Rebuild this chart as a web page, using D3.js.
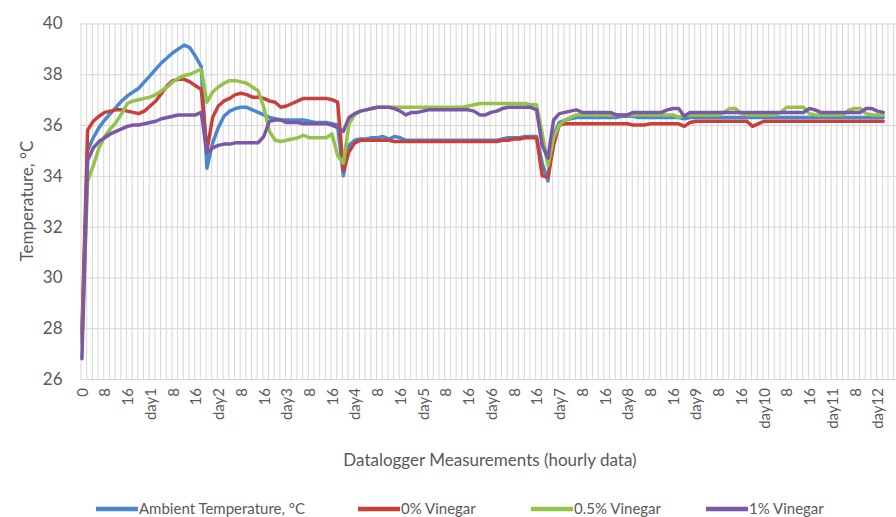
<!DOCTYPE html>
<html>
<head>
<meta charset="utf-8">
<script src="https://cdn.jsdelivr.net/npm/d3@7"></script>
<style>
  body { margin: 0; background: #fff; }
  svg { display: block; font-family: Lato, "Open Sans", sans-serif; }
</style>
</head>
<body>
<svg id="chart" width="896" height="517"></svg>
<script>
// logger readings taken every 2 hours (one row = one day)
var hours = d3.range(0, 284, 2);

var ambient = [
  27.6, 35.0, 35.5, 35.9, 36.2, 36.45, 36.7, 36.95, 37.15, 37.3, 37.45, 37.7,
  37.95, 38.2, 38.45, 38.65, 38.85, 39.0, 39.15, 39.05, 38.7, 38.3, 34.3, 35.3,
  35.9, 36.35, 36.55, 36.65, 36.7, 36.7, 36.6, 36.5, 36.4, 36.3, 36.25, 36.2,
  36.2, 36.2, 36.2, 36.2, 36.15, 36.1, 36.1, 36.1, 36.05, 36.0, 34.0, 35.2,
  35.4, 35.45, 35.45, 35.5, 35.5, 35.55, 35.45, 35.55, 35.5, 35.4, 35.4, 35.4,
  35.4, 35.4, 35.4, 35.4, 35.4, 35.4, 35.4, 35.4, 35.4, 35.4, 35.4, 35.4,
  35.4, 35.4, 35.45, 35.5, 35.5, 35.5, 35.55, 35.55, 35.55, 34.5, 33.8, 35.6,
  36.1, 36.2, 36.25, 36.3, 36.3, 36.3, 36.3, 36.3, 36.3, 36.3, 36.3, 36.35,
  36.35, 36.35, 36.3, 36.3, 36.3, 36.3, 36.3, 36.3, 36.3, 36.3, 36.25, 36.3,
  36.3, 36.3, 36.3, 36.3, 36.3, 36.3, 36.3, 36.3, 36.3, 36.3, 36.3, 36.3,
  36.3, 36.3, 36.3, 36.3, 36.3, 36.3, 36.3, 36.3, 36.3, 36.3, 36.3, 36.3,
  36.3, 36.3, 36.3, 36.3, 36.3, 36.3, 36.3, 36.3, 36.3, 36.3
];
var vinegar0 = [
  27.8, 35.8, 36.15, 36.35, 36.5, 36.55, 36.6, 36.6, 36.55, 36.5, 36.45, 36.55,
  36.75, 36.95, 37.25, 37.55, 37.75, 37.8, 37.8, 37.7, 37.55, 37.4, 35.0, 36.3,
  36.75, 36.95, 37.05, 37.2, 37.25, 37.2, 37.1, 37.1, 37.05, 36.95, 36.9, 36.7,
  36.75, 36.85, 36.95, 37.05, 37.05, 37.05, 37.05, 37.05, 37.0, 36.9, 34.2, 34.95,
  35.3, 35.4, 35.4, 35.4, 35.4, 35.4, 35.4, 35.35, 35.35, 35.35, 35.35, 35.35,
  35.35, 35.35, 35.35, 35.35, 35.35, 35.35, 35.35, 35.35, 35.35, 35.35, 35.35, 35.35,
  35.35, 35.35, 35.4, 35.4, 35.45, 35.45, 35.5, 35.5, 35.5, 34.0, 33.95, 35.2,
  36.0, 36.05, 36.05, 36.05, 36.05, 36.05, 36.05, 36.05, 36.05, 36.05, 36.05, 36.05,
  36.05, 36.0, 36.0, 36.0, 36.05, 36.05, 36.05, 36.05, 36.05, 36.05, 35.95, 36.1,
  36.15, 36.15, 36.15, 36.15, 36.15, 36.15, 36.15, 36.15, 36.15, 36.15, 35.95, 36.05,
  36.15, 36.15, 36.15, 36.15, 36.15, 36.15, 36.15, 36.15, 36.15, 36.15, 36.15, 36.15,
  36.15, 36.15, 36.15, 36.15, 36.15, 36.15, 36.15, 36.15, 36.15, 36.15
];
var vinegar05 = [
  27.4, 33.8, 34.4, 35.1, 35.55, 35.85, 36.1, 36.45, 36.85, 36.95, 37.0, 37.05,
  37.1, 37.2, 37.35, 37.5, 37.7, 37.85, 37.95, 38.0, 38.1, 38.2, 36.9, 37.3,
  37.5, 37.65, 37.75, 37.75, 37.7, 37.65, 37.5, 37.35, 36.7, 35.75, 35.4, 35.35,
  35.4, 35.45, 35.5, 35.6, 35.5, 35.5, 35.5, 35.5, 35.65, 34.8, 34.5, 36.05,
  36.4, 36.55, 36.6, 36.65, 36.7, 36.7, 36.7, 36.7, 36.7, 36.7, 36.7, 36.7,
  36.7, 36.7, 36.7, 36.7, 36.7, 36.7, 36.7, 36.7, 36.75, 36.8, 36.85, 36.85,
  36.85, 36.85, 36.85, 36.85, 36.85, 36.85, 36.85, 36.8, 36.8, 35.65, 34.4, 35.5,
  36.0, 36.2, 36.3, 36.4, 36.4, 36.4, 36.4, 36.4, 36.4, 36.4, 36.4, 36.4,
  36.4, 36.4, 36.4, 36.4, 36.4, 36.4, 36.4, 36.4, 36.4, 36.3, 36.4, 36.4,
  36.4, 36.4, 36.4, 36.4, 36.4, 36.5, 36.65, 36.65, 36.45, 36.4, 36.4, 36.4,
  36.4, 36.4, 36.4, 36.5, 36.7, 36.7, 36.7, 36.7, 36.45, 36.4, 36.4, 36.4,
  36.4, 36.4, 36.4, 36.6, 36.65, 36.65, 36.45, 36.4, 36.4, 36.4
];
var vinegar1 = [
  26.8, 34.6, 35.1, 35.35, 35.5, 35.65, 35.75, 35.85, 35.95, 36.0, 36.0, 36.05,
  36.1, 36.15, 36.25, 36.3, 36.35, 36.4, 36.4, 36.4, 36.4, 36.5, 34.9, 35.1,
  35.2, 35.25, 35.25, 35.3, 35.3, 35.3, 35.3, 35.3, 35.55, 36.15, 36.2, 36.2,
  36.1, 36.1, 36.1, 36.05, 36.05, 36.05, 36.05, 36.05, 36.0, 35.9, 35.75, 36.3,
  36.45, 36.55, 36.6, 36.65, 36.7, 36.7, 36.7, 36.65, 36.55, 36.4, 36.5, 36.5,
  36.55, 36.6, 36.6, 36.6, 36.6, 36.6, 36.6, 36.6, 36.6, 36.55, 36.4, 36.4,
  36.5, 36.55, 36.65, 36.7, 36.7, 36.7, 36.7, 36.7, 36.6, 35.2, 34.7, 36.2,
  36.45, 36.5, 36.55, 36.6, 36.5, 36.5, 36.5, 36.5, 36.5, 36.5, 36.4, 36.4,
  36.4, 36.5, 36.5, 36.5, 36.5, 36.5, 36.5, 36.6, 36.65, 36.65, 36.35, 36.5,
  36.5, 36.5, 36.5, 36.5, 36.5, 36.5, 36.5, 36.5, 36.5, 36.5, 36.5, 36.5,
  36.5, 36.5, 36.5, 36.5, 36.5, 36.5, 36.5, 36.5, 36.65, 36.6, 36.5, 36.5,
  36.5, 36.5, 36.5, 36.5, 36.5, 36.5, 36.65, 36.65, 36.55, 36.5
];

var seriesNames = ["Ambient Temperature, \u00B0C", "0% Vinegar", "0.5% Vinegar", "1% Vinegar"];
var seriesColors = ["#4a87cf", "#c9403b", "#93c34a", "#7b57a7"];

// one category label every 8 hours
var tickLabels = ["0", "8", "16", "day1", "8", "16", "day2", "8", "16", "day3", "8", "16",
  "day4", "8", "16", "day5", "8", "16", "day6", "8", "16", "day7", "8", "16",
  "day8", "8", "16", "day9", "8", "16", "day10", "8", "16", "day11", "8", "day12"];
var yTicks = [26, 28, 30, 32, 34, 36, 38, 40];

var svg = d3.select("#chart");
var plotLeft = 80.5, plotRight = 896, plotTop = 23.5, plotBottom = 379;

var x = d3.scaleLinear().domain([-0.5, 286.5]).range([plotLeft, plotRight]);
var y = d3.scaleLinear().domain([26, 40]).range([plotBottom, plotTop]);

var textColor = "#595959";

// vertical gridlines, every 2 categories
svg.append("g")
  .attr("transform", "translate(0," + plotBottom + ")")
  .call(d3.axisBottom(x).tickValues(d3.range(-0.5, 287, 2)).tickSize(-(plotBottom - plotTop)).tickFormat(""))
  .call(function (g) {
    g.select(".domain").remove();
    g.selectAll("line").attr("stroke", "#d6d6d6").attr("stroke-width", 1);
  });

// horizontal gridlines + y labels
svg.append("g")
  .attr("transform", "translate(" + plotLeft + ",0)")
  .call(d3.axisLeft(y).tickValues(yTicks).tickSize(-(plotRight - plotLeft)).tickPadding(18))
  .call(function (g) {
    g.select(".domain").remove();
    g.selectAll("line").attr("stroke", "#d6d6d6").attr("stroke-width", 1);
    g.selectAll("text")
      .attr("fill", textColor)
      .style("font-size", "17px")
      .style("font-family", "Lato, 'Open Sans', sans-serif");
  });

// x category labels
svg.append("g")
  .attr("transform", "translate(0," + plotBottom + ")")
  .call(d3.axisBottom(x).tickValues(d3.range(0, tickLabels.length * 8, 8))
    .tickFormat(function (d, i) { return tickLabels[i]; }).tickSize(0))
  .call(function (g) {
    g.select(".domain").remove();
    g.selectAll("text")
      .attr("fill", textColor)
      .attr("x", -9).attr("y", 0).attr("dy", "0.35em")
      .attr("transform", "rotate(-90)")
      .style("text-anchor", "end")
      .style("font-size", "15px")
      .style("font-family", "Lato, 'Open Sans', sans-serif");
  });

// series lines
var allSeries = [ambient, vinegar0, vinegar05, vinegar1];
var line = d3.line()
  .x(function (d, i) { return x(hours[i]); })
  .y(function (d) { return y(d); });

allSeries.forEach(function (vals, k) {
  svg.append("path")
    .datum(vals)
    .attr("d", line)
    .attr("fill", "none")
    .attr("stroke", seriesColors[k])
    .attr("stroke-width", 3.5)
    .attr("stroke-linejoin", "round")
    .attr("stroke-linecap", "round");
});

// axis titles
svg.append("text")
  .attr("transform", "translate(33,201) rotate(-90)")
  .attr("text-anchor", "middle")
  .attr("fill", textColor)
  .style("font-size", "17px")
  .text("Temperature, \u00B0C");

svg.append("text")
  .attr("x", 490).attr("y", 466)
  .attr("text-anchor", "middle")
  .attr("fill", textColor)
  .style("font-size", "17px")
  .text("Datalogger Measurements (hourly data)");

// legend
var legendX = [96, 358, 531, 706];
var legend = svg.append("g");
seriesNames.forEach(function (name, k) {
  legend.append("line")
    .attr("x1", legendX[k]).attr("x2", legendX[k] + 42)
    .attr("y1", 509).attr("y2", 509)
    .attr("stroke", seriesColors[k])
    .attr("stroke-width", 4.5);
  legend.append("text")
    .attr("x", legendX[k] + 43).attr("y", 514)
    .attr("fill", textColor)
    .style("font-size", "15px")
    .text(name);
});
</script>
</body>
</html>
